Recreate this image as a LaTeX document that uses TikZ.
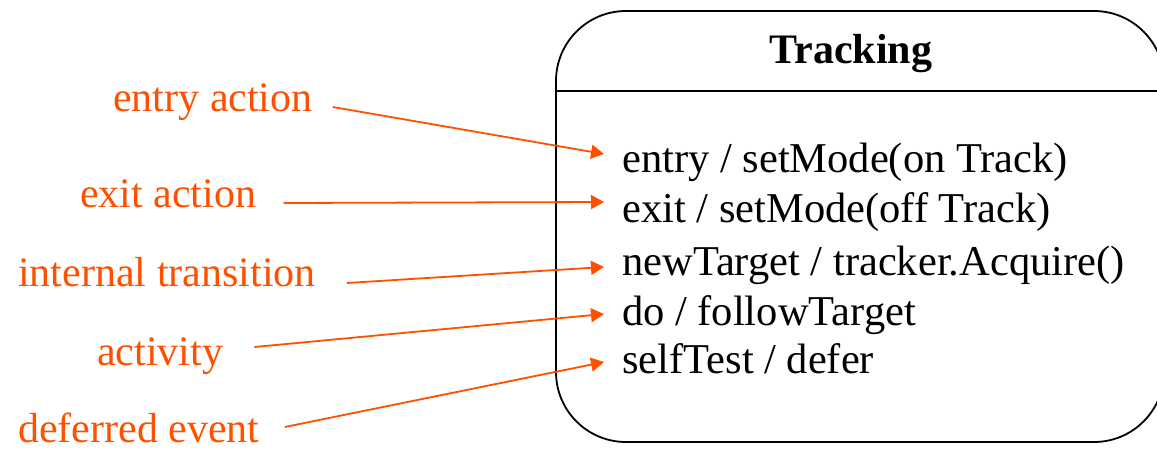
\documentclass[tikz,border=0pt]{standalone}
\usepackage{fontspec}
\setmainfont{Liberation Serif}
\usetikzlibrary{arrows.meta}
\definecolor{hint}{RGB}{255,80,0}
\tikzset{
	lbl/.style={anchor=base west,inner sep=0pt,text=hint,font=\fontsize{42}{44}\selectfont},
	row/.style={anchor=base west,inner sep=0pt,font=\fontsize{42.5}{44}\selectfont},
	pointer/.style={draw=hint,line width=1.8pt,-{Triangle[length=13pt,width=14pt]}}
}

\begin{document}
\begin{tikzpicture}[x=1pt,y=-1pt]
	\useasboundingbox (0,0) rectangle (1157,450);
	\draw[line width=1.8pt,rounded corners=70pt] (556,11) rectangle (1164,442);
	\draw[line width=1.8pt] (556,91) -- (1164,91);
	\node[anchor=base,inner sep=0pt,font=\fontsize{42}{44}\selectfont\bfseries] (title) at (851,63) {Tracking};
	\node[row] (entRow) at (622,172) {entry / setMode(on Track)};
	\node[row] (exiRow) at (622,222) {exit / setMode(off Track)};
	\node[row] (newRow) at (622,275) {newTarget / tracker.Acquire()};
	\node[row] (doRow) at (622,325) {do / followTarget};
	\node[row] (selRow) at (622,373) {selfTest / defer};
	\node[lbl] (entLbl) at (113,111) {entry action};
	\node[lbl] (exiLbl) at (80,207) {exit action};
	\node[lbl] (newLbl) at (18,286) {internal transition};
	\node[lbl] (doLbl) at (97,365) {activity};
	\node[lbl] (selLbl) at (18,442) {deferred event};
	\draw[pointer] ([shift={(20,-4)}]entLbl.base east) -- ([shift={(-18,-18)}]entRow.base west);
	\draw[pointer] ([shift={(27,-4)}]exiLbl.base east) -- ([shift={(-18,-20)}]exiRow.base west);
	\draw[pointer] ([shift={(31,-3)}]newLbl.base east) -- ([shift={(-18,-8)}]newRow.base west);
	\draw[pointer] ([shift={(31,-18)}]doLbl.base east) -- ([shift={(-18,-11)}]doRow.base west);
	\draw[pointer] ([shift={(25,-15)}]selLbl.base east) -- ([shift={(-18,-11)}]selRow.base west);
\end{tikzpicture}
\end{document}
